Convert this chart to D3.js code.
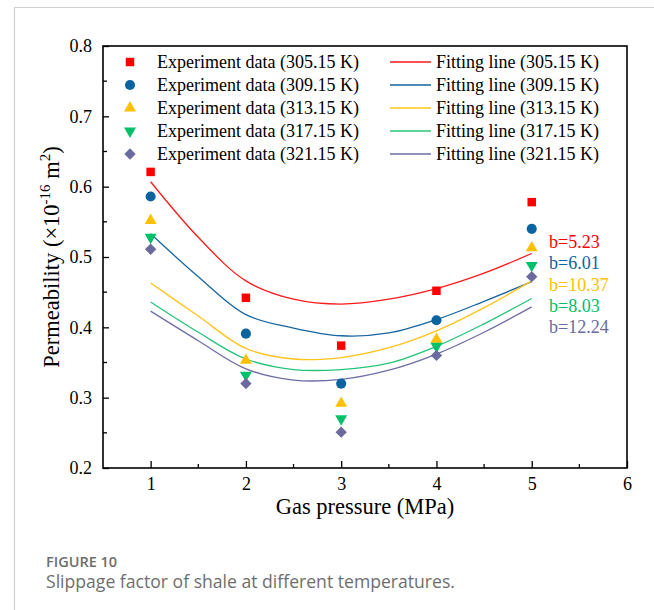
<!DOCTYPE html>
<html>
<head>
	<meta charset="UTF-8" />
	<title>Slippage factor of shale</title>
	<script src="https://d3js.org/d3.v7.min.js"></script>
	<style>
		body { margin: 0; background: #fff; }
		svg { display: block; }
	</style>
</head>
<body>
	<svg id="chart" width="654" height="610"></svg>

	<script type="text/javascript">

	// ---- data ----
	var pressure = [1, 2, 3, 4, 5]
	var temps = ["305.15", "309.15", "313.15", "317.15", "321.15"]
	var exp305 = [0.621, 0.442, 0.374, 0.452, 0.578]
	var exp309 = [0.586, 0.391, 0.320, 0.410, 0.540]
	var exp313 = [0.552, 0.353, 0.292, 0.383, 0.513]
	var exp317 = [0.528, 0.332, 0.270, 0.373, 0.488]
	var exp321 = [0.511, 0.320, 0.251, 0.360, 0.472]

	var fitX = [1, 1.5, 2, 2.5, 3, 3.5, 4, 4.5, 5]
	var fit305 = [0.607, 0.528, 0.466, 0.440, 0.433, 0.440, 0.455, 0.477, 0.505]
	var fit309 = [0.533, 0.472, 0.418, 0.399, 0.388, 0.392, 0.411, 0.437, 0.465]
	var fit313 = [0.463, 0.416, 0.370, 0.355, 0.357, 0.371, 0.395, 0.428, 0.466]
	var fit317 = [0.436, 0.393, 0.355, 0.340, 0.340, 0.349, 0.373, 0.405, 0.441]
	var fit321 = [0.423, 0.381, 0.341, 0.325, 0.326, 0.339, 0.362, 0.393, 0.429]

	var bValues = ["5.23", "6.01", "10.37", "8.03", "12.24"]
	var xTicks = [1, 2, 3, 4, 5, 6]
	var yTicks = [0.2, 0.3, 0.4, 0.5, 0.6, 0.7, 0.8]

	var expData = [exp305, exp309, exp313, exp317, exp321]
	var fitData = [fit305, fit309, fit313, fit317, fit321]

	// ---- styling ----
	var markerColors = ["#ff0000", "#0b64a0", "#ffc000", "#00c06a", "#6a6a9e"]
	var lineColors = ["#ff1a1a", "#1565a0", "#ffc31a", "#24c47a", "#6d6da6"]
	var markerShapes = [
		{type: d3.symbolSquare, size: 72, rot: 0},
		{type: d3.symbolCircle, size: 80, rot: 0},
		{type: d3.symbolTriangle, size: 62, rot: 0},
		{type: d3.symbolTriangle, size: 62, rot: 180},
		{type: d3.symbolSquare, size: 64, rot: 45}
	]
	var serif = "'Liberation Serif', 'Times New Roman', serif"

	var svg = d3.select("#chart")

	// page frame (light grey top and left rule)
	svg.append("line").attr("x1", 14).attr("x2", 654).attr("y1", 7.5).attr("y2", 7.5)
		.attr("stroke", "#cfcfcf").attr("stroke-width", 1.2)
	svg.append("line").attr("x1", 14.5).attr("x2", 14.5).attr("y1", 7).attr("y2", 610)
		.attr("stroke", "#cfcfcf").attr("stroke-width", 1.2)

	var pL = 103, pR = 627, pT = 46, pB = 468

	var x = d3.scaleLinear().domain([0.5, 6]).range([pL, pR])
	var y = d3.scaleLinear().domain([0.2, 0.8]).range([pB, pT])

	var plot = svg.append("g")

	// minor ticks
	var xMinor = d3.range(1.5, 6, 1)
	var yMinor = d3.range(0.25, 0.8, 0.1)
	plot.selectAll(".xminor").data(xMinor).enter().append("line")
		.attr("x1", d => x(d)).attr("x2", d => x(d))
		.attr("y1", pB).attr("y2", pB - 4)
		.attr("stroke", "#000").attr("stroke-width", 1.3)
	plot.selectAll(".yminor").data(yMinor).enter().append("line")
		.attr("y1", d => y(d)).attr("y2", d => y(d))
		.attr("x1", pL).attr("x2", pL + 4)
		.attr("stroke", "#000").attr("stroke-width", 1.3)

	// axes with inward ticks
	var xAxis = d3.axisBottom(x).tickValues(xTicks).tickSize(-7).tickPadding(9).tickFormat(d3.format("d"))
	var yAxis = d3.axisLeft(y).tickValues(yTicks).tickSize(-6).tickPadding(11).tickFormat(d3.format(".1f"))

	var gx = plot.append("g").attr("transform", "translate(0," + pB + ")").call(xAxis)
	var gy = plot.append("g").attr("transform", "translate(" + pL + ",0)").call(yAxis)
	;[gx, gy].forEach(g => {
		g.select(".domain").remove()
		g.selectAll(".tick line").attr("stroke", "#000").attr("stroke-width", 1.3)
		g.selectAll(".tick text").attr("fill", "#000")
			.style("font-family", serif).style("font-size", "18px")
	})

	// frame
	plot.append("rect")
		.attr("x", pL).attr("y", pT)
		.attr("width", pR - pL).attr("height", pB - pT)
		.attr("fill", "none").attr("stroke", "#000").attr("stroke-width", 1.6)

	// fitting lines
	var line = d3.line()
		.x((d, i) => x(fitX[i]))
		.y(d => y(d))
		.curve(d3.curveCatmullRom.alpha(0.5))

	plot.selectAll(".fit").data(fitData).enter().append("path")
		.attr("d", line)
		.attr("fill", "none")
		.attr("stroke", (d, i) => lineColors[i])
		.attr("stroke-width", 1.3)

	// experiment markers
	expData.forEach((series, s) => {
		var shape = markerShapes[s]
		plot.selectAll(".m" + s).data(series).enter().append("path")
			.attr("d", d3.symbol().type(shape.type).size(shape.size))
			.attr("transform", (d, i) => "translate(" + x(pressure[i]) + "," + y(d) + ") rotate(" + shape.rot + ")")
			.attr("fill", markerColors[s])
	})

	// b labels
	plot.selectAll(".blab").data(bValues).enter().append("text")
		.attr("x", 549)
		.attr("y", (d, i) => 248 + i * 21.3)
		.attr("fill", (d, i) => markerColors[i])
		.style("font-family", serif).style("font-size", "18px")
		.text(d => "b=" + d)

	// legend
	var legend = plot.append("g")
	temps.forEach((t, i) => {
		var ly = 62 + i * 23
		var shape = markerShapes[i]
		legend.append("path")
			.attr("d", d3.symbol().type(shape.type).size(shape.size)())
			.attr("transform", "translate(130," + ly + ") rotate(" + shape.rot + ")")
			.attr("fill", markerColors[i])
		legend.append("text")
			.attr("x", 157).attr("y", ly + 6)
			.style("font-family", serif).style("font-size", "18px")
			.text("Experiment data (" + t + " K)")
		legend.append("line")
			.attr("x1", 390).attr("x2", 431).attr("y1", ly).attr("y2", ly)
			.attr("stroke", lineColors[i]).attr("stroke-width", 1.3)
		legend.append("text")
			.attr("x", 436).attr("y", ly + 6)
			.style("font-family", serif).style("font-size", "18px")
			.text("Fitting line (" + t + " K)")
	})

	// axis titles
	svg.append("text")
		.attr("x", (pL + pR) / 2).attr("y", 514)
		.attr("text-anchor", "middle")
		.style("font-family", serif).style("font-size", "22.5px")
		.text("Gas pressure (MPa)")

	var yt = svg.append("text")
		.attr("transform", "translate(59," + ((pT + pB) / 2) + ") rotate(-90)")
		.attr("text-anchor", "middle")
		.style("font-family", serif).style("font-size", "22.5px")
	yt.append("tspan").text("Permeability (×10")
	yt.append("tspan").attr("dy", -9).style("font-size", "15px").text("-16")
	yt.append("tspan").attr("dy", 9).text(" m")
	yt.append("tspan").attr("dy", -9).style("font-size", "15px").text("2")
	yt.append("tspan").attr("dy", 9).text(")")

	// caption
	svg.append("text")
		.attr("x", 46).attr("y", 567)
		.attr("fill", "#6e6e6e")
		.style("font-family", "'Open Sans', sans-serif").style("font-size", "14.5px").style("font-weight", 600)
		.text("FIGURE 10")
	svg.append("text")
		.attr("x", 46).attr("y", 588)
		.attr("fill", "#6e6e6e")
		.style("font-family", "'Open Sans', sans-serif").style("font-size", "17.6px")
		.text("Slippage factor of shale at different temperatures.")

	</script>
</body>
</html>
